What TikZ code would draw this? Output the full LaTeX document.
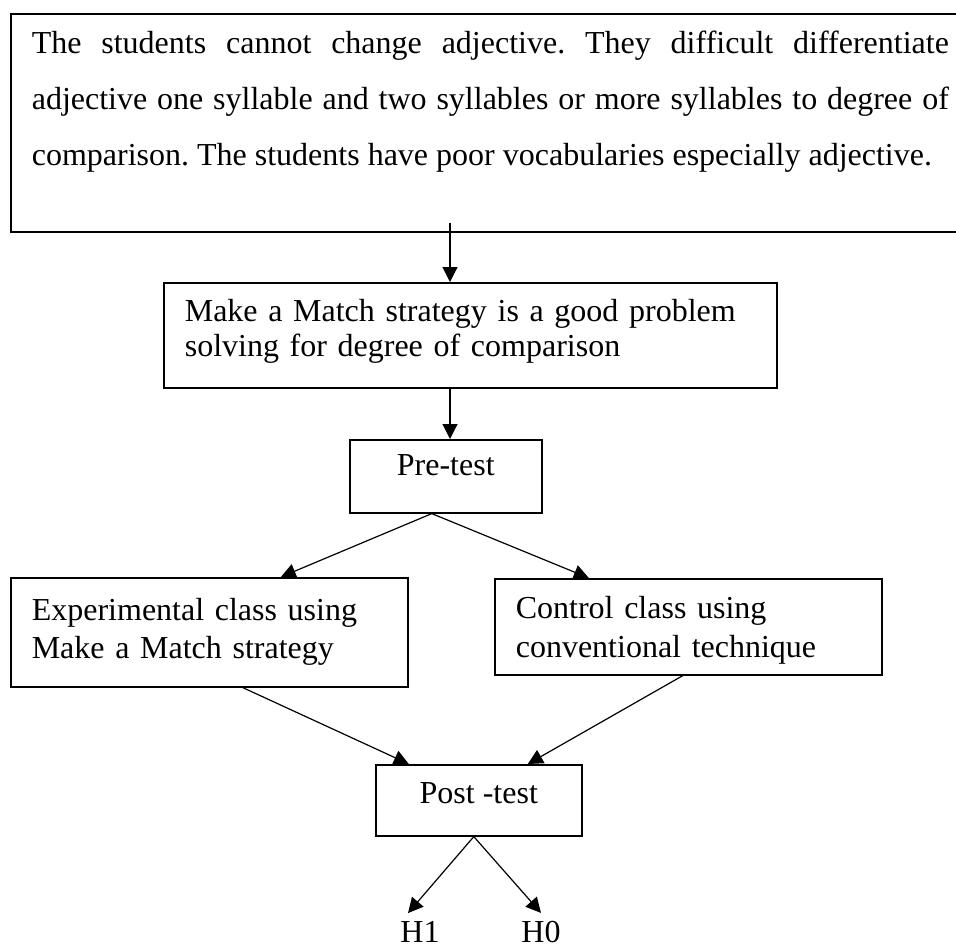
\documentclass[tikz,border=0pt]{standalone}
\usepackage{fontspec}
\setmainfont{Liberation Serif}
\usetikzlibrary{arrows.meta}
\frenchspacing

\tikzset{
  box/.style={draw, line width=0.8pt, anchor=north west, inner xsep=10.5pt, inner ysep=0pt},
  arr/.style={line width=0.6pt, -{Triangle[length=7.5pt,width=7.5pt]}},
  hyp/.style={anchor=base, inner sep=3.7pt}
}

\begin{document}
\begin{tikzpicture}[x=0.5pt, y=-0.5pt, font=\fontsize{16}{19}\selectfont]
    \useasboundingbox (0,0) rectangle (956,947);
    \coordinate (axis) at (450,0);
    \node[box, text width=458.5pt, align=justify, text height=20pt, text depth=89pt,
          font=\fontsize{16}{28}\selectfont] (prob) at (10,13)
      {The students cannot change adjective. They difficult differentiate\linebreak
       adjective one syllable and two syllables or more syllables to degree of\linebreak
       comparison. The students have poor vocabularies especially adjective.};
    \node[box, text width=285.5pt, align=left, text height=19.5pt, text depth=33pt,
          font=\fontsize{16}{17.5}\selectfont] (match) at (163,282)
      {Make a Match strategy is a good problem\\ solving for degree of comparison};
    \node[box, minimum width=96pt, text height=18pt, text depth=18.5pt] (pre) at (349,439) {Pre-test};
    \node[box, text width=177.5pt, align=left, text height=21.5pt, text depth=33pt] (exp) at (10,577)
      {Experimental class using\\ Make a Match strategy};
    \node[box, text width=172.5pt, align=left, text height=20pt, text depth=28pt,
          font=\fontsize{16}{19.5}\selectfont] (ctrl) at (494,578)
      {Control class using\\ conventional technique};
    \node[box, minimum width=103pt, text height=19.5pt, text depth=16pt] (post) at (375,764) {Post -test};
    \node[hyp] (h1) at (420,942) {H1};
    \node[hyp] (h0) at (541,942) {H0};
    \draw[arr] ([yshift=5pt]prob.south -| axis) -- (match.north -| axis);
    \draw[arr] (match.south -| axis) -- (pre.north -| axis);
    \draw[arr] ([xshift=-7pt]pre.south) -- ([xshift=35.75pt]exp.north);
    \draw[arr] ([xshift=-7pt]pre.south) -- ([xshift=-49.75pt]ctrl.north);
    \draw[arr] ([xshift=16.75pt]exp.south) -- ([xshift=-35pt]post.north);
    \draw[arr] ([xshift=-2.75pt]ctrl.south) -- ([xshift=24.5pt]post.north);
    \draw[arr] ([xshift=-2.5pt]post.south) -- ([xshift=-6pt]h1.north);
    \draw[arr] ([xshift=-2.5pt]post.south) -- (h0.north);
  \end{tikzpicture}
\end{document}
